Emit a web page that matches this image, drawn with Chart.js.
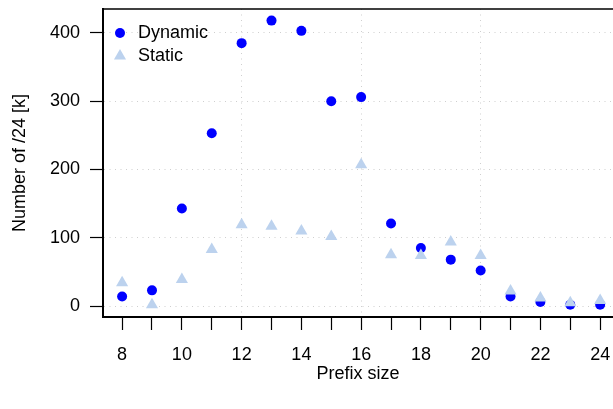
<!DOCTYPE html>
<html>
<head>
<meta charset="utf-8">
<script src="https://cdn.jsdelivr.net/npm/chart.js@4/dist/chart.umd.min.js"></script>
<style>
  html, body { margin: 0; padding: 0; background: #fff; }
  #wrap { width: 613px; height: 409px; }
</style>
</head>
<body>
<div id="wrap"><canvas id="prefixChart" width="613" height="409"></canvas></div>
<script>
// prefix sizes (x) and counts in thousands of /24s
var prefixSizes = [8, 9, 10, 11, 12, 13, 14, 15, 16, 17, 18, 19, 20, 21, 22, 23, 24];
var dynamicValues = [14, 23, 143, 253, 385, 418, 403, 300, 306, 121, 85, 68, 52, 14, 6, 2, 2];
var staticValues = [34, 2, 39, 83, 119, 117, 110, 102, 207, 75, 74, 94, 74, 22, 12, 5, 8];
var yTicks = [0, 100, 200, 300, 400];
var xGridAt = [12, 16, 20];

var FONT = 'Liberation Sans, Arial, Helvetica, sans-serif';

function toPoints(values) {
    var pts = [];
    for (var i = 0; i < prefixSizes.length; i++) {
        pts.push({ x: prefixSizes[i], y: values[i] });
    }
    return pts;
}

// legend + top border drawn by hand (legend sits inside the plot box, R style)
var boxLegend = {
    id: 'boxLegend',
    afterDraw: function (chart) {
        var ctx = chart.ctx;
        var area = chart.chartArea;
        ctx.save();
        ctx.strokeStyle = '#000';
        ctx.lineWidth = 1.5;
        ctx.beginPath();
        ctx.moveTo(area.left, area.top);
        ctx.lineTo(area.right, area.top);
        ctx.stroke();

        var rows = [chart.data.datasets[1], chart.data.datasets[0]];
        ctx.font = '18px ' + FONT;
        ctx.textBaseline = 'middle';
        ctx.textAlign = 'left';
        for (var i = 0; i < rows.length; i++) {
            var ds = rows[i];
            var y = area.top + 24 + i * 23;
            ctx.fillStyle = ds.backgroundColor;
            Chart.helpers.drawPoint(ctx, {
                pointStyle: ds.pointStyle,
                radius: ds.pointStyle == 'triangle' ? 7 : 5,
                borderWidth: 0
            }, area.left + 17, y);
            ctx.fillStyle = '#000';
            ctx.fillText(ds.label, area.left + 35, y);
        }
        ctx.restore();
    }
};

new Chart("prefixChart", {
    type: "scatter",
    data: {
        datasets: [{
            label: "Static",
            data: toPoints(staticValues),
            pointStyle: 'triangle',
            pointRadius: 7,
            pointHoverRadius: 7,
            backgroundColor: '#bcd2ee',
            borderWidth: 0
        }, {
            label: "Dynamic",
            data: toPoints(dynamicValues),
            pointStyle: 'circle',
            pointRadius: 5,
            pointHoverRadius: 5,
            backgroundColor: '#0000ff',
            borderWidth: 0
        }]
    },
    options: {
        responsive: false,
        animation: false,
        events: [],
        layout: {
            autoPadding: false,
            padding: { top: 9, right: 0, bottom: 0, left: 0 }
        },
        plugins: {
            legend: { display: false },
            tooltip: { enabled: false }
        },
        scales: {
            x: {
                type: 'linear',
                min: 7.36,
                max: 24.43,
                afterFit: function (scale) {
                    scale.height = 92;
                    scale.paddingLeft = 0;
                    scale.paddingRight = 0;
                },
                afterBuildTicks: function (scale) {
                    scale.ticks = prefixSizes.map(function (v) { return { value: v }; });
                },
                ticks: {
                    autoSkip: false,
                    maxRotation: 0,
                    padding: 14,
                    color: '#000',
                    font: { size: 18, family: FONT },
                    callback: function (v) { return v % 2 == 0 ? String(v) : ''; }
                },
                grid: {
                    color: function (c) {
                        return c.tick && xGridAt.indexOf(c.tick.value) >= 0 ? '#cfcfcf' : 'rgba(0,0,0,0)';
                    },
                    lineWidth: 1,
                    tickColor: '#000',
                    tickLength: 13,
                    tickWidth: 1.2
                },
                border: { display: true, color: '#000', width: 2, dash: [1, 4.5] },
                title: {
                    display: true,
                    text: 'Prefix size',
                    color: '#000',
                    font: { size: 18, family: FONT },
                    padding: { top: 0, bottom: 24 }
                }
            },
            y: {
                min: -16,
                max: 435,
                afterFit: function (scale) {
                    scale.width = 103;
                    scale.paddingTop = 0;
                    scale.paddingBottom = 0;
                },
                afterBuildTicks: function (scale) {
                    scale.ticks = yTicks.map(function (v) { return { value: v }; });
                },
                ticks: {
                    padding: 10,
                    color: '#000',
                    font: { size: 18, family: FONT }
                },
                grid: {
                    color: '#cfcfcf',
                    lineWidth: 1,
                    tickColor: '#000',
                    tickLength: 13,
                    tickWidth: 1.2
                },
                border: { display: true, color: '#000', width: 2, dash: [1, 4.5] },
                title: {
                    display: true,
                    text: 'Number of /24 [k]',
                    color: '#000',
                    font: { size: 18, family: FONT },
                    padding: { top: 9, bottom: 0 }
                }
            }
        }
    },
    plugins: [boxLegend]
});
</script>
</body>
</html>
